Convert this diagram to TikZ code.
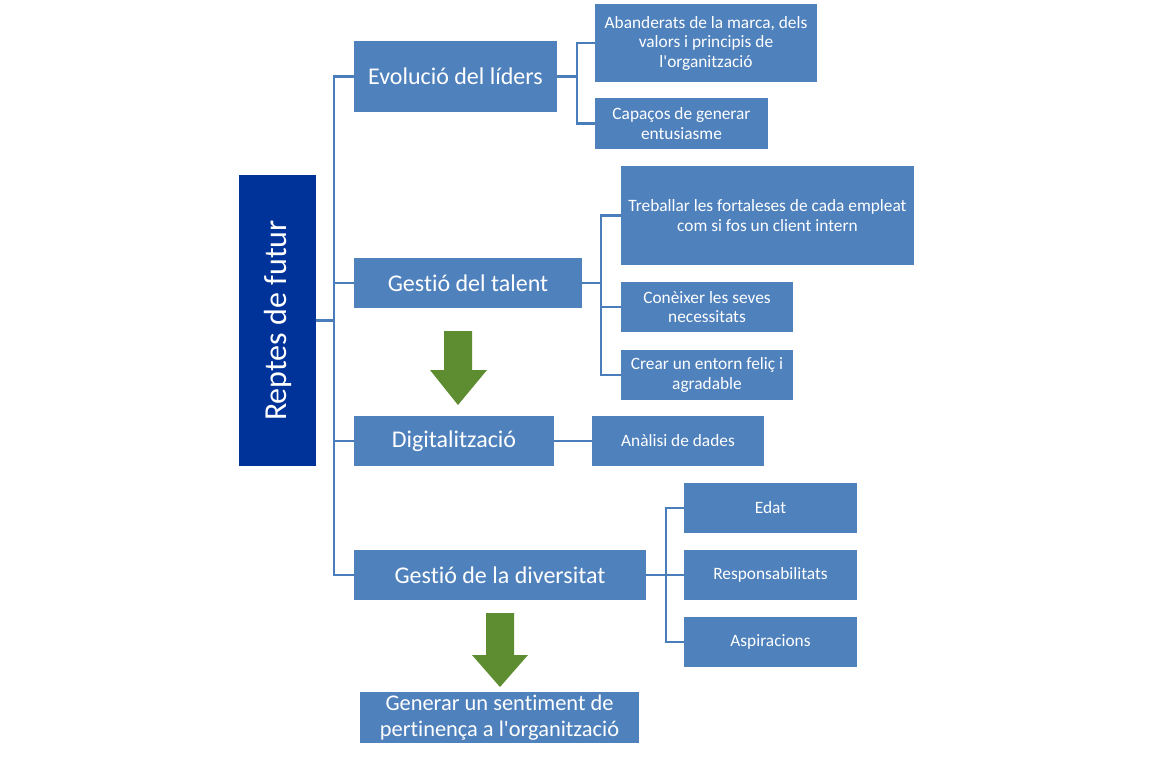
\documentclass[tikz,border=0pt]{standalone}
\usepackage{fontspec}
\setmainfont{Carlito}[Ligatures={TeX,NoCommon}]
\definecolor{boxblue}{HTML}{4F81BD}
\definecolor{linkblue}{HTML}{4A7EBB}
\definecolor{rootblue}{HTML}{003399}
\definecolor{arrowgreen}{HTML}{5E8C31}

\tikzset{
  sz/.style 2 args={minimum width=#1*0.75pt, minimum height=#2*0.75pt},
  rootbox/.style={fill=rootblue, text=white, inner sep=0pt, font=\fontsize{24}{28}\selectfont},
  topbox/.style={fill=boxblue, text=white, inner sep=0pt, align=center, font=\fontsize{18}{21}\selectfont},
  subbox/.style={fill=boxblue, text=white, inner sep=0pt, align=center, font=\fontsize{13}{14.6}\selectfont},
  link/.style={draw=linkblue, line width=2.2pt},
  bigarrow/.style={fill=arrowgreen},
}

\begin{document}
\begin{tikzpicture}[x=0.75pt, y=-0.75pt]
  \useasboundingbox (0,0) rectangle (1154,765);

  % root
  \node[rootbox, sz={291}{77}, rotate=90] (root) at (277.5,320.5) {Reptes de futur};

  % first level
  \node[topbox, sz={203}{71}] (evol) at (455.5,76.5) {Evolució del líders};
  \node[topbox, sz={228}{50}] (talent) at (468,283) {Gestió del talent};
  \node[topbox, sz={200}{50}] (digit) at (454,441) {Digitalització};
  \node[topbox, sz={292}{50}] (divers) at (500,575) {Gestió de la diversitat};

  % second level
  \node[subbox, sz={222}{78}] (aband) at (706,43) {Abanderats de la marca, dels\\valors i principis de\\l\textquotesingle organització};
  \node[subbox, sz={173}{51}] (capac) at (681.5,123.5) {Capaços de generar\\entusiasme};
  \node[subbox, sz={293}{99}] (treball) at (767.5,215.5) {Treballar les fortaleses de cada empleat\\com si fos un client intern};
  \node[subbox, sz={172}{50}] (coneix) at (707,307) {Conèixer les seves\\necessitats};
  \node[subbox, sz={172}{50}] (entorn) at (707,375) {Crear un entorn feliç i\\agradable};
  \node[subbox, sz={172}{50}] (analisi) at (678,441) {Anàlisi de dades};
  \node[subbox, sz={173}{50}] (edat) at (770.5,508) {Edat};
  \node[subbox, sz={173}{50}] (respons) at (770.5,575) {Responsabilitats};
  \node[subbox, sz={173}{50}] (aspira) at (770.5,642) {Aspiracions};

  % result
  \node[topbox, sz={279}{51}, font=\fontsize{16.8}{19.5}\selectfont] (sentim) at (499.5,717.5) {Generar un sentiment de\\pertinença a l\textquotesingle organització};

  % forks
  \coordinate (trunk) at (334,320.5);
  \coordinate (evolfork) at (577,76.5);
  \coordinate (talentfork) at (601,283);
  \coordinate (diversfork) at (666,575);

  \draw[link] (root.south) -- (trunk);
  \foreach \n in {evol,talent,digit,divers}
    \draw[link] (\n.west) -| (trunk);

  \draw[link] (evol.east) -- (evolfork);
  \foreach \n in {aband,capac}
    \draw[link] (\n.west) -| (evolfork);

  \draw[link] (talent.east) -- (talentfork);
  \foreach \n in {treball,coneix,entorn}
    \draw[link] (\n.west) -| (talentfork);

  \draw[link] (digit.east) -- (analisi.west);

  \draw[link] (divers.east) -- (diversfork);
  \foreach \n in {edat,respons,aspira}
    \draw[link] (\n.west) -| (diversfork);

  % green arrows
  \fill[bigarrow] (444,331) -- (472,331) -- (472,370) -- (487,370) -- (458,405) -- (430,370) -- (444,370) -- cycle;
  \fill[bigarrow] (486,613) -- (514,613) -- (514,655) -- (528,655) -- (500,687) -- (472,655) -- (486,655) -- cycle;
\end{tikzpicture}
\end{document}
